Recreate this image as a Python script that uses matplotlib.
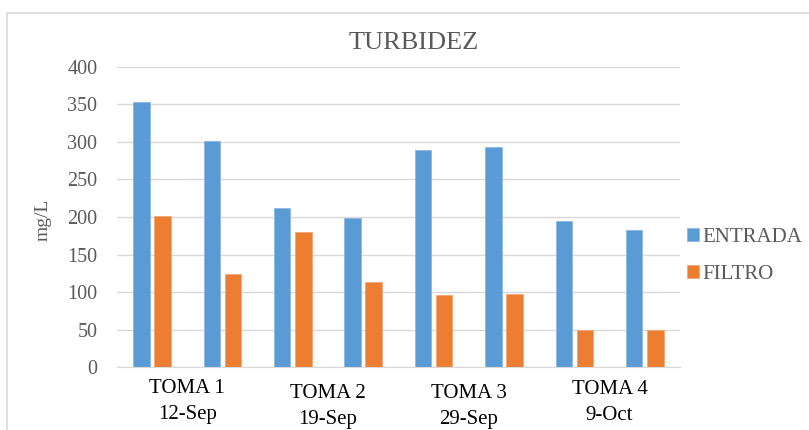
import numpy as np
import matplotlib
matplotlib.use("Agg")
import matplotlib.pyplot as plt
from matplotlib.patches import Rectangle

# datos (mg/L)
tomas = ["TOMA 1", "TOMA 2", "TOMA 3", "TOMA 4"]
fechas = ["12-Sep", "19-Sep", "29-Sep", "9-Oct"]
entrada = [353, 301, 212, 199, 289, 293, 195, 182]
filtro = [201, 124, 180, 114, 96, 97, 50, 49]

azul = "#5B9BD5"
naranja = "#ED7D31"
gris = "#595959"
serif = "Liberation Serif"

fig = plt.figure(figsize=(8.09, 4.30), dpi=100)
ax = fig.add_axes([0.1443, 0.1465, 0.6962, 0.6977])

x = np.arange(len(entrada))
ancho = 0.235
ax.bar(x - 0.15, entrada, ancho, color=azul, edgecolor="#8DB8E6", linewidth=0.6, label="ENTRADA", zorder=3)
ax.bar(x + 0.15, filtro, ancho, color=naranja, edgecolor="#F4A772", linewidth=0.6, label="FILTRO", zorder=3)

ax.set_xlim(-0.5, len(entrada) - 0.5)
ax.set_ylim(0, 400)
ax.set_yticks(np.arange(0, 401, 50))
ax.yaxis.grid(True, color="#D9D9D9", linewidth=1, zorder=0)
ax.set_xticks([])
ax.tick_params(axis="y", length=0, pad=14, labelsize=14.5, labelcolor=gris)
for lab in ax.get_yticklabels():
    lab.set_fontfamily(serif)
for s in ["top", "right", "left"]:
    ax.spines[s].set_visible(False)
ax.spines["bottom"].set_color("#D9D9D9")
ax.spines["bottom"].set_zorder(4)

ax.set_ylabel("mg/L", family=serif, fontsize=14, color=gris)
ax.yaxis.set_label_coords(-0.116, 0.49)

# etiquetas de dos niveles (toma + fecha), centradas en cada par
bajada = [0, 5, 5, 1]
for i, (t, f) in enumerate(zip(tomas, fechas)):
    xc = 2 * i + 0.5
    y0 = -0.07 - bajada[i] / 300
    ax.text(xc, y0, t, transform=ax.get_xaxis_transform(), ha="center", va="center",
            family=serif, fontsize=15, color="black")
    ax.text(xc, y0 - 0.087, f, transform=ax.get_xaxis_transform(), ha="center", va="center",
            family=serif, fontsize=15, color="black")

fig.text(414 / 809, 1 - 43 / 430, "TURBIDEZ", ha="center", va="center",
         family=serif, fontsize=19, color=gris)

leg = ax.legend(loc="center left", bbox_to_anchor=(1.012, 0.37), frameon=False,
                borderaxespad=0, borderpad=0,
                prop={"family": serif, "size": 15}, handlelength=0.6, handleheight=0.6,
                handletextpad=0.15, labelspacing=0.85)
for txt in leg.get_texts():
    txt.set_color(gris)

# marco del area del grafico
fig.patches.append(Rectangle((7 / 809, -0.1), 1.2, 1 - 13 / 430 + 0.1, transform=fig.transFigure,
                             fill=False, edgecolor="#D9D9D9", linewidth=1.2))

fig.savefig("out.png", dpi=100)
